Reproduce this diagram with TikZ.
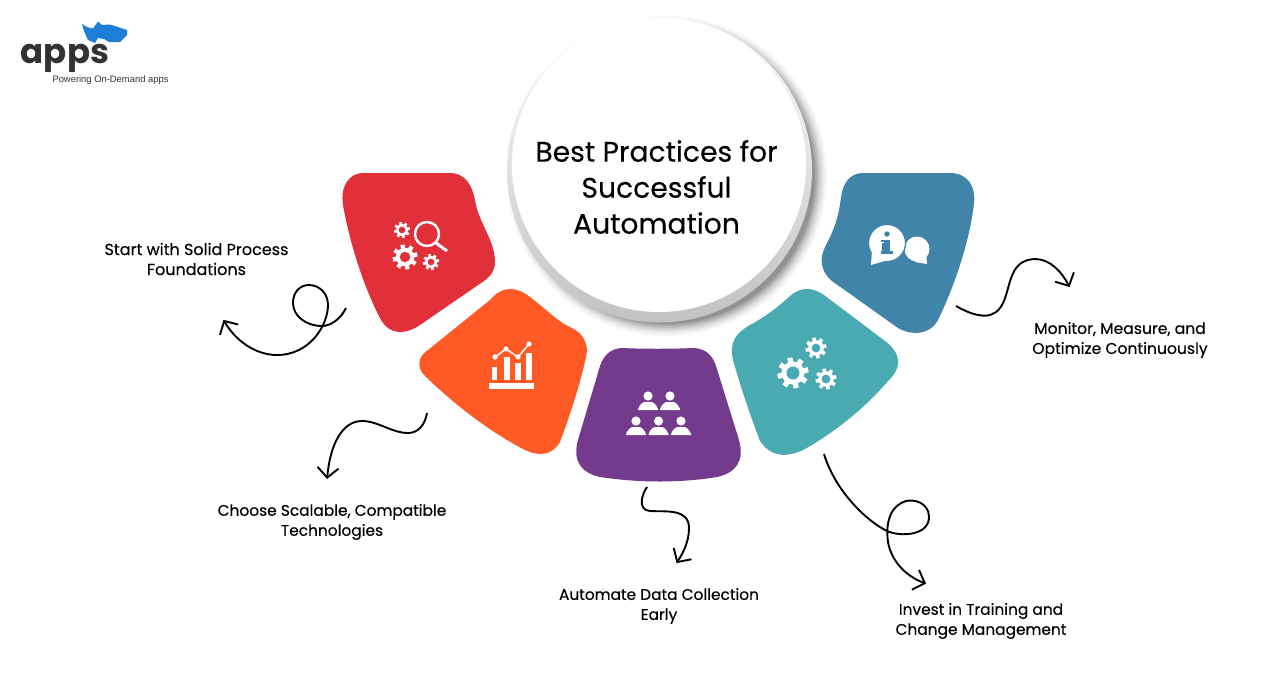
\documentclass[tikz,border=0pt]{standalone}
\usepackage{fontspec}
\setmainfont{Poppins}[FakeBold=0.25]
\newfontfamily\logofont{Poppins}
\newfontfamily\tagfont{Liberation Sans}
\usetikzlibrary{arrows.meta}
\definecolor{cred}{HTML}{E2303B}
\definecolor{corange}{HTML}{FF5A26}
\definecolor{cpurple}{HTML}{743A8C}
\definecolor{cteal}{HTML}{49ABB1}
\definecolor{cblue}{HTML}{4184A9}
\definecolor{crhino}{HTML}{1C7ED6}
\definecolor{cink}{HTML}{333333}
\tikzset{
  blob/.style={fill=#1,draw=none},
  swoosh/.style={draw=black,line width=1.9pt,-{Straight Barb[length=10pt,width=21pt,line width=1.9pt]},shorten >=1pt},
  caption/.style={align=center,font=\fontsize{15.4}{20}\selectfont,inner sep=0pt,text=black},
  iconline/.style={draw=white,line width=2.4pt},
}
\newcommand{\gearicon}[4]{%
  \begin{scope}[shift={(#1,#2)}]
    \fill[white] (0,0) circle[radius=0.74*#3];
    \foreach \a in {0,45,...,315}{
      \fill[white,rotate=\a+12] (-0.17*#3,0) rectangle (0.17*#3,-#3);
    }
    \fill[#4] (0,0) circle[radius=0.42*#3];
  \end{scope}}
\newcommand{\personicon}[2]{%
  \begin{scope}[shift={(#1,#2)}]
    \fill[white] (0,0) circle[radius=4.6];
    \fill[white] (-10,14) -- (-10,13) .. controls (-8,8) and (-5,6) .. (-3,6) -- (3,6) .. controls (5,6) and (8,8) .. (10,13) -- (10,14) -- cycle;
  \end{scope}}
\begin{document}
\begin{tikzpicture}[x=1pt,y=-1pt]
\useasboundingbox (0,0) rectangle (1288,686);
\fill[white] (0,0) rectangle (1288,686);

% logo
\node[inner sep=0pt,anchor=base,text=cink,font=\logofont\bfseries\fontsize{34}{34}\selectfont] (logo) at (65,63.5) {apps};
\fill[crhino] (82,24) -- (87,27) -- (93,28.5) -- (98,21.5) -- (102,25) -- (110,24.5) -- (127,30) -- (127,35) -- (120,42) -- (109,42) -- (104,39) -- (98,38) -- (95,43) -- (88,40) -- (84,31) -- cycle;
\node[inner sep=0pt,text=cink,font=\tagfont\fontsize{9.4}{11}\selectfont] (tagline) at (110.5,80) {Powering On-Demand apps};

% blobs
\path[blob=cred] (363,173) -- (450,173) .. controls (465,173) and (472,185) .. (475,200) .. controls (478,222) and (495,240) .. (495,262) .. controls (495,270) and (491,276) .. (484,281) -- (420,325) .. controls (405,335) and (390,335) .. (381,320) .. controls (365,290) and (350,245) .. (343,205) .. controls (340,185) and (350,173) .. (363,173) -- cycle;
\path[blob=corange] (510,289) .. controls (522,289) and (530,297) .. (540,305) .. controls (550,313) and (560,323) .. (572,328) .. controls (584,334) and (589,345) .. (586,357) .. controls (580,385) and (570,415) .. (560,442) .. controls (552,455) and (540,457) .. (525,450) .. controls (490,432) and (455,405) .. (425,376) .. controls (417,368) and (417,357) .. (428,350) -- (490,300) .. controls (496,293) and (503,289) .. (510,289) -- cycle;
\path[blob=cpurple] (623,348) .. controls (640,349) and (675,349) .. (692,348) .. controls (703,348) and (712,353) .. (716,366) -- (739,440) .. controls (745,462) and (735,473) .. (717,477) .. controls (680,483) and (640,483) .. (600,477) .. controls (582,473) and (572,462) .. (578,440) -- (600,366) .. controls (604,354) and (612,348) .. (623,348) -- cycle;
\path[blob=cteal] (807,289) .. controls (815,289) and (822,293) .. (828,298) -- (885,341) .. controls (902,354) and (902,368) .. (888,381) .. controls (865,408) and (835,432) .. (805,449) .. controls (785,459) and (770,456) .. (760,441) .. controls (750,415) and (740,385) .. (733,360) .. controls (729,342) and (736,333) .. (750,325) .. controls (765,317) and (778,307) .. (790,296) .. controls (796,291) and (801,289) .. (807,289) -- cycle;
\path[blob=cblue] (863,173) -- (950,173) .. controls (968,173) and (976,187) .. (974,203) .. controls (970,240) and (955,285) .. (938,320) .. controls (930,335) and (912,336) .. (898,328) -- (832,281) .. controls (820,271) and (819,258) .. (826,245) .. controls (835,228) and (839,215) .. (841,197) .. controls (843,183) and (850,173) .. (863,173) -- cycle;

% central circle with shadow
\foreach \r/\o in {160/.03,158/.04,156/.05,154/.07,152/.09,150/.11,148/.13}{
  \fill[black,opacity=\o] (667,176) circle[radius=\r];
}
\shade[top color=white,middle color=black!8,bottom color=black!24,draw=none] (659.5,170) circle[radius=152.5];
\node[circle,fill=white,inner sep=0pt,minimum size=294pt] (hub) at (659,165) {};
\node[align=center,inner sep=0pt,font=\fontsize{28.2}{36}\selectfont,text=black] (title) at (656.5,187) {Best Practices for\\Successful\\Automation};

% red icon
\gearicon{402}{230}{8}{cred}
\gearicon{405}{257}{12.5}{cred}
\gearicon{431}{262}{8}{cred}
\draw[iconline] (427,234) circle[radius=12];
\draw[iconline,line width=3pt] (436,243) -- (447,251);

% orange icon
\fill[white] (489,383) rectangle (534,389);
\fill[white] (492,367) rectangle (497,380);
\fill[white] (504,357) rectangle (510,380);
\fill[white] (515,363) rectangle (521,380);
\fill[white] (526,353) rectangle (532,380);
\draw[white,line width=1.5pt] (495,357) -- (506,349) -- (518,357) -- (529,344);
\foreach \px/\py in {495/357,506/349,518/357,529/344}{\fill[white] (\px,\py) circle[radius=2.6];}

% purple icon
\personicon{648}{396}
\personicon{670}{396}
\personicon{636}{421}
\personicon{658.5}{421}
\personicon{681}{421}

% teal icon
\gearicon{793}{373}{15.5}{cteal}
\gearicon{816}{348}{10.5}{cteal}
\gearicon{826}{379}{10.5}{cteal}

% blue icon
\fill[white] (917,249) circle[radius=12.5];
\fill[white] (915,262) -- (927,264) -- (926,252) -- cycle;
\fill[white,draw=cblue,line width=1.3pt] (887,243) circle[radius=18.6];
\fill[white] (871,265) -- (888,260) -- (872,250) -- cycle;
\fill[cblue] (887,234) circle[radius=2.7];
\fill[cblue] (882,240) rectangle (890,251);
\fill[cblue] (881,251) rectangle (893,254);
\fill[white] (880,240) rectangle (884,243);
\fill[cblue] (881,240) rectangle (884,242);

% captions
\node[caption,font=\fontsize{16}{20}\selectfont] (c1) at (196.5,259) {Start with Solid Process\\Foundations};
\node[caption] (c2) at (332,522) {Choose Scalable, Compatible\\Technologies};
\node[caption] (c3) at (659,606) {Automate Data Collection\\Early};
\node[caption] (c4) at (981,621) {Invest in Training and\\Change Management};
\node[caption,font=\fontsize{15.6}{20}\selectfont] (c5) at (1120,340) {Monitor, Measure, and\\Optimize Continuously};

% connectors
\coordinate (s1) at (346,308); \coordinate (e1) at (223,319);
\coordinate (s2) at (427,413); \coordinate (e2) at (327,480);
\coordinate (s3) at (647,487); \coordinate (e3) at (676,564);
\coordinate (s4) at (824,454); \coordinate (e4) at (927,584);
\coordinate (s5) at (956,306); \coordinate (e5) at (1070,288);

\draw[swoosh] (s1) .. controls (340,320) and (330,326) .. (322,326)
  .. controls (306,326) and (293,316) .. (293,303)
  .. controls (293,292) and (300,285) .. (309,285)
  .. controls (319,285) and (328,293) .. (328,305)
  .. controls (328,325) and (310,355) .. (277,355)
  .. controls (255,355) and (235,340) .. (e1);
\draw[swoosh] (s2) .. controls (425,425) and (418,433) .. (408,433)
  .. controls (392,433) and (378,421) .. (362,421)
  .. controls (342,421) and (330,445) .. (e2);
\draw[swoosh] (s3) .. controls (642,494) and (637,510) .. (650,511)
  .. controls (665,512) and (689,508) .. (689,528)
  .. controls (689,542) and (683,553) .. (e3);
\draw[swoosh] (s4) .. controls (835,490) and (865,520) .. (887,531)
  .. controls (900,537) and (930,536) .. (929,516)
  .. controls (928,503) and (915,499) .. (906,501)
  .. controls (892,505) and (885,520) .. (888,542)
  .. controls (891,560) and (905,576) .. (e4);
\draw[swoosh] (s5) .. controls (970,314) and (990,322) .. (1000,308)
  .. controls (1012,292) and (1006,260) .. (1035,259)
  .. controls (1050,259) and (1062,272) .. (e5);
\end{tikzpicture}
\end{document}
